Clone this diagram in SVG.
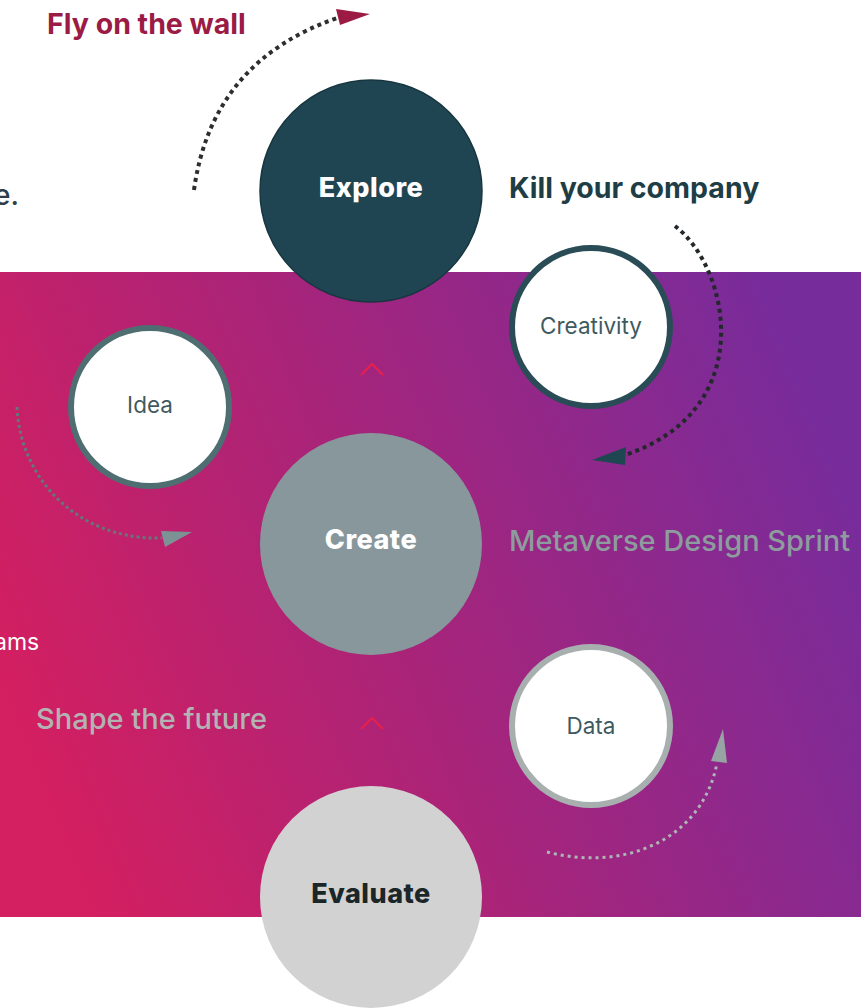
<svg xmlns="http://www.w3.org/2000/svg" width="861" height="1008" viewBox="0 0 861 1008">
  <defs>
    <linearGradient id="band" x1="0" y1="0.65" x2="1" y2="0.35">
      <stop offset="0" stop-color="#d41f60"/>
      <stop offset="0.45" stop-color="#a92479"/>
      <stop offset="1" stop-color="#772c9c"/>
    </linearGradient>
  </defs>
  <style>
    text { font-family: Inter, "Noto Sans", "Liberation Sans", sans-serif; }
    .big { font-size: 27px; font-weight: 800; text-anchor: middle; letter-spacing: 0.5px; }
    .small { font-size: 22.5px; font-weight: 400; text-anchor: middle; fill: #3f5a5e; }
    .ring { fill: #ffffff; stroke-width: 6; }
    .dots { fill: none; stroke-linecap: butt; }
    .chev { fill: none; stroke: #e8214c; stroke-width: 2; }
  </style>

  <rect width="861" height="1008" fill="#ffffff"/>
  <rect x="0" y="272" width="861" height="645" fill="url(#band)"/>

  <!-- free labels -->
  <text x="47" y="34" font-size="28.5" font-weight="700" fill="#9b1b45">Fly on the wall</text>
  <text x="-6" y="205" font-size="28" font-weight="500" fill="#2d3e48">e.</text>
  <text x="509" y="198" font-size="28.5" font-weight="700" fill="#1e3d45">Kill your company</text>
  <text x="509" y="551" font-size="29" font-weight="500" fill="#8d9c9c">Metaverse Design Sprint</text>
  <text x="-6" y="650" font-size="23" font-weight="400" fill="#ffffff">ams</text>
  <text x="36" y="729" font-size="29" font-weight="500" fill="#b3b3b3">Shape the future</text>

  <!-- connectors -->
  <g id="connectors">
    <path class="dots" d="M194,190 Q212,60 340,17" stroke="#2e2e30" stroke-width="4" stroke-dasharray="4 4"/>
    <polygon points="336,9 370,14 340,25" fill="#9b1b45"/>

    <path class="dots" d="M675,226 C730,268 760,412 622,456" stroke="#23282b" stroke-width="4" stroke-dasharray="4 4"/>
    <polygon points="626,447 592,460 625,465" fill="#1f4752"/>

    <path class="dots" d="M17,407 C20,480 80,541 162,538" stroke="#64787a" stroke-width="3" stroke-dasharray="3 3"/>
    <polygon points="161,531 192,532 165,547" fill="#7d9294"/>

    <path class="dots" d="M547,852 C625,872 702,840 717,763" stroke="#aeb6b6" stroke-width="3" stroke-dasharray="3 4"/>
    <polygon points="711,761 723,729 727,763" fill="#98a3a3"/>

    <polyline class="chev" points="361,375 372,364 383,375"/>
    <polyline class="chev" points="361,729 372,718 383,729"/>
  </g>

  <!-- main stages -->
  <g id="explore">
    <circle cx="371" cy="191" r="111" fill="#1f4553" stroke="#183640" stroke-width="1.5"/>
    <text class="big" x="371" y="197" fill="#ffffff">Explore</text>
  </g>
  <g id="create">
    <circle cx="371" cy="544" r="111" fill="#87979b"/>
    <text class="big" x="371" y="549" fill="#ffffff">Create</text>
  </g>
  <g id="evaluate">
    <circle cx="371" cy="897" r="111" fill="#d3d2d3"/>
    <text class="big" x="371" y="903" fill="#1b2628">Evaluate</text>
  </g>

  <!-- satellite nodes -->
  <g id="idea">
    <circle class="ring" cx="150" cy="407" r="79" stroke="#4f6e72"/>
    <text class="small" x="150" y="413">Idea</text>
  </g>
  <g id="creativity">
    <circle class="ring" cx="591" cy="327" r="79" stroke="#2a4c56"/>
    <text class="small" x="591" y="334">Creativity</text>
  </g>
  <g id="data">
    <circle class="ring" cx="591" cy="726" r="79" stroke="#a8afaf"/>
    <text class="small" x="591" y="734">Data</text>
  </g>
</svg>
